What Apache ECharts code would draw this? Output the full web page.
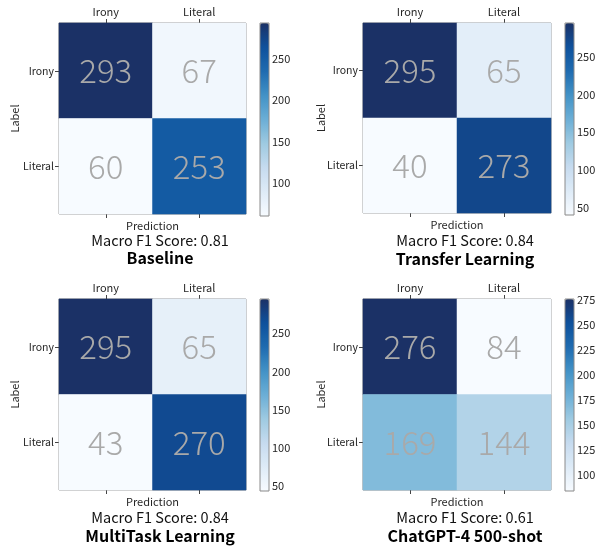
<!DOCTYPE html>
<html>
<head>
<meta charset="utf-8">
<script src="https://cdn.jsdelivr.net/npm/echarts@6/dist/echarts.min.js"></script>
<style>
  html, body { margin: 0; padding: 0; background: #fff; }
  #chart { width: 605px; height: 548px; }
</style>
</head>
<body>
<div id="chart"></div>
<script>
// Confusion matrices (rows = true label, columns = prediction)
const classes = ['Irony', 'Literal'];

const baselineMatrix = [[293, 67], [60, 253]];
const transferMatrix = [[295, 65], [40, 273]];
const multitaskMatrix = [[295, 65], [43, 270]];
const gptMatrix = [[276, 84], [169, 144]];

const modelNames = ['Baseline', 'Transfer Learning', 'MultiTask Learning', 'ChatGPT-4 500-shot'];
const macroF1 = ['0.81', '0.84', '0.84', '0.61'];

// Colour-bar tick values for each panel
const baselineTicks = [100, 150, 200, 250];
const transferTicks = [50, 100, 150, 200, 250];
const multitaskTicks = [50, 100, 150, 200, 250];
const gptTicks = [100, 125, 150, 175, 200, 225, 250, 275];

const matrices = [baselineMatrix, transferMatrix, multitaskMatrix, gptMatrix];
const tickSets = [baselineTicks, transferTicks, multitaskTicks, gptTicks];

// Layout of each panel: heatmap box, colour bar box, caption centres
const layout = [
  { box: [59, 23, 187, 191], bar: [260, 23, 9, 193], cx: 160, f1y: 240, ny: 258, gap: 39 },
  { box: [363, 23, 188, 190], bar: [565, 23, 9, 192], cx: 465, f1y: 240, ny: 259, gap: 37 },
  { box: [59, 299, 187, 191], bar: [260, 299, 9, 192], cx: 160, f1y: 517, ny: 536, gap: 39 },
  { box: [363, 299, 188, 191], bar: [565, 299, 9, 192], cx: 465, f1y: 517, ny: 536, gap: 37 }
];

// "Blues" sequential palette
const blues = ['#f7fbff', '#deebf7', '#c6dbef', '#9ecae1', '#6baed6', '#4292c6', '#1f6bb0', '#0e519c', '#1b3166'];

const FONT = 'Noto Sans CJK KR';
const TXT = '#262626';
const SPINE = '#8a8a8a';

const grid = [], xAxis = [], yAxis = [], series = [], visualMap = [], graphic = [];

matrices.forEach((m, p) => {
  const L = layout[p];
  const flat = m.flat();
  const vmin = Math.min(...flat), vmax = Math.max(...flat);
  const data = [];
  m.forEach((row, r) => row.forEach((v, c) => data.push([c, r, v])));

  // heatmap grid
  const gi = grid.length;
  grid.push({ left: L.box[0], top: L.box[1], width: L.box[2], height: L.box[3],
    show: true, borderColor: SPINE, borderWidth: 1, backgroundColor: 'transparent' });
  // colour-bar grid
  const ci = grid.length;
  grid.push({ left: L.bar[0], top: L.bar[1], width: L.bar[2], height: L.bar[3],
    show: true, borderColor: SPINE, borderWidth: 1, backgroundColor: 'transparent', z: 5 });

  const xTop = xAxis.length;
  xAxis.push({
    type: 'category', data: classes, gridIndex: gi, position: 'top',
    axisLine: { show: false },
    axisTick: { show: true, alignWithLabel: true, length: 4, lineStyle: { color: '#444' } },
    axisLabel: { color: TXT, fontSize: 11, fontFamily: FONT, margin: 6 },
    splitLine: { show: false }
  });
  xAxis.push({
    type: 'category', data: classes, gridIndex: gi, position: 'bottom',
    name: 'Prediction', nameLocation: 'middle', nameGap: 6,
    nameTextStyle: { color: TXT, fontSize: 11, fontFamily: FONT },
    axisLine: { show: false },
    axisTick: { show: true, alignWithLabel: true, length: 4, lineStyle: { color: '#444' } },
    axisLabel: { show: false },
    splitLine: { show: false }
  });
  xAxis.push({ type: 'value', gridIndex: ci, show: false, min: 0, max: 1 });

  const yMain = yAxis.length;
  yAxis.push({
    type: 'category', data: classes, gridIndex: gi, inverse: true,
    name: 'Label', nameLocation: 'middle', nameGap: L.gap, nameRotate: 90, nameMoveOverlap: false,
    nameTextStyle: { color: TXT, fontSize: 11, fontFamily: FONT },
    axisLine: { show: false },
    axisTick: { show: true, alignWithLabel: true, length: 4, lineStyle: { color: '#444' } },
    axisLabel: { color: TXT, fontSize: 10.5, fontFamily: FONT, margin: 5 },
    splitLine: { show: false }
  });
  yAxis.push({
    type: 'value', gridIndex: ci, position: 'right', min: vmin, max: vmax,
    axisLine: { show: false },
    axisTick: { show: true, length: 4, customValues: tickSets[p], lineStyle: { color: '#444' } },
    axisLabel: { color: TXT, fontSize: 11, fontFamily: FONT, margin: 3, customValues: tickSets[p] },
    splitLine: { show: false }
  });

  const si = series.length;
  series.push({
    type: 'heatmap', xAxisIndex: xTop, yAxisIndex: yMain, data: data,
    label: { show: true, color: '#a9a9a9', fontSize: 33, fontWeight: 300, fontFamily: FONT,
      formatter: (d) => String(d.value[2]) },
    itemStyle: { borderWidth: 0 },
    emphasis: { disabled: true }
  });

  visualMap.push({
    type: 'continuous', seriesIndex: si, min: vmin, max: vmax, calculable: false,
    orient: 'vertical', left: L.bar[0], top: L.bar[1], itemWidth: L.bar[2], itemHeight: L.bar[3],
    padding: 0, text: null, showLabel: false, inRange: { color: blues }, hoverLink: false
  });

  graphic.push({ type: 'text', x: L.cx, y: L.f1y,
    style: { text: 'Macro F1 Score: ' + macroF1[p], font: '14.5px "' + FONT + '"', fill: '#111',
      textAlign: 'center', textVerticalAlign: 'middle' } });
  graphic.push({ type: 'text', x: L.cx, y: L.ny,
    style: { text: modelNames[p], font: 'bold 16px "' + FONT + '"', fill: '#000',
      textAlign: 'center', textVerticalAlign: 'middle' } });
});

const chart = echarts.init(document.getElementById('chart'), null, { renderer: 'canvas' });
chart.setOption({
  backgroundColor: '#fff',
  animation: false,
  grid, xAxis, yAxis, series, visualMap, graphic
});
</script>
</body>
</html>
